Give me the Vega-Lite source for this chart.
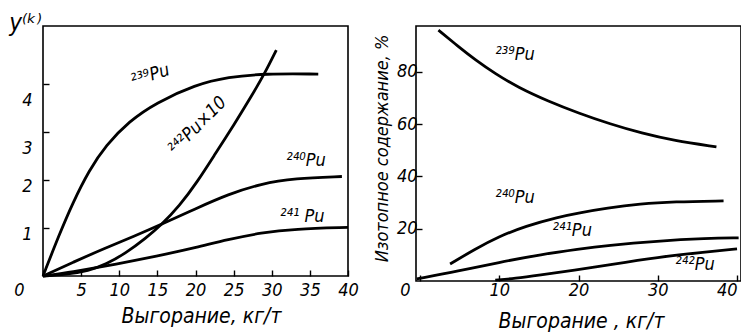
{
  "$schema": "https://vega.github.io/schema/vega-lite/v6.json",
  "padding": {"left": 7, "top": 10, "right": 0, "bottom": 0},
  "background": "white",
  "bounds": "flush",
  "spacing": 68,
  "config": {
    "view": {"stroke": "black", "strokeWidth": 1.6},
    "font": "DejaVu Sans Condensed, DejaVu Sans",
    "axis": {
      "domain": false, "grid": false, "ticks": true, "tickSize": -6, "tickColor": "black", "tickWidth": 1.4, "labelOverlap": false, "labelSeparation": 0,
      "labelFont": "DejaVu Sans Condensed, DejaVu Sans", "labelFontStyle": "italic", "labelFontSize": 18, "labelColor": "black",
      "titleFont": "DejaVu Sans Condensed, DejaVu Sans", "titleFontStyle": "italic", "titleFontWeight": "normal", "titleFontSize": 20, "titleColor": "black"
    },
    "text": {"font": "DejaVu Sans Condensed, DejaVu Sans", "fontStyle": "italic", "fontSize": 18, "color": "black"}
  },
  "datasets": {
    "left": [
      {"iso": "239", "x": 0, "y": 0}, {"iso": "239", "x": 2.1, "y": 0.85}, {"iso": "239", "x": 3.9, "y": 1.52}, {"iso": "239", "x": 6.05, "y": 2.2}, {"iso": "239", "x": 8.25, "y": 2.72}, {"iso": "239", "x": 11.3, "y": 3.22}, {"iso": "239", "x": 14.8, "y": 3.6}, {"iso": "239", "x": 20, "y": 3.98}, {"iso": "239", "x": 24.3, "y": 4.14}, {"iso": "239", "x": 29.1, "y": 4.21}, {"iso": "239", "x": 36.1, "y": 4.2},
      {"iso": "242", "x": 0, "y": 0}, {"iso": "242", "x": 3, "y": 0.03}, {"iso": "242", "x": 6, "y": 0.11}, {"iso": "242", "x": 8.25, "y": 0.24}, {"iso": "242", "x": 10.9, "y": 0.48}, {"iso": "242", "x": 13.5, "y": 0.79}, {"iso": "242", "x": 15.5, "y": 1.06}, {"iso": "242", "x": 17.9, "y": 1.46}, {"iso": "242", "x": 20.2, "y": 1.95}, {"iso": "242", "x": 22.5, "y": 2.52}, {"iso": "242", "x": 25.1, "y": 3.16}, {"iso": "242", "x": 27.3, "y": 3.73}, {"iso": "242", "x": 29.1, "y": 4.22}, {"iso": "242", "x": 30.6, "y": 4.7},
      {"iso": "240", "x": 0, "y": 0}, {"iso": "240", "x": 4, "y": 0.29}, {"iso": "240", "x": 8, "y": 0.57}, {"iso": "240", "x": 12, "y": 0.83}, {"iso": "240", "x": 15.5, "y": 1.07}, {"iso": "240", "x": 20, "y": 1.4}, {"iso": "240", "x": 24.3, "y": 1.7}, {"iso": "240", "x": 28.6, "y": 1.92}, {"iso": "240", "x": 33, "y": 2.03}, {"iso": "240", "x": 39.2, "y": 2.07},
      {"iso": "241", "x": 0, "y": 0}, {"iso": "241", "x": 4, "y": 0.09}, {"iso": "241", "x": 8, "y": 0.2}, {"iso": "241", "x": 12.6, "y": 0.34}, {"iso": "241", "x": 16, "y": 0.45}, {"iso": "241", "x": 20, "y": 0.59}, {"iso": "241", "x": 24.3, "y": 0.76}, {"iso": "241", "x": 28.6, "y": 0.9}, {"iso": "241", "x": 33, "y": 0.98}, {"iso": "241", "x": 40, "y": 1.01}
    ],
    "right": [
      {"iso": "239", "x": 2.33, "y": 95.9}, {"iso": "239", "x": 4.86, "y": 89.6}, {"iso": "239", "x": 6.96, "y": 84.6}, {"iso": "239", "x": 9.48, "y": 79.3}, {"iso": "239", "x": 12.4, "y": 74.0}, {"iso": "239", "x": 16.2, "y": 68.7}, {"iso": "239", "x": 20, "y": 64.2}, {"iso": "239", "x": 24, "y": 60.0}, {"iso": "239", "x": 28, "y": 56.5}, {"iso": "239", "x": 32, "y": 53.7}, {"iso": "239", "x": 37.4, "y": 51.3},
      {"iso": "240", "x": 3.8, "y": 6.5}, {"iso": "240", "x": 6.96, "y": 12.2}, {"iso": "240", "x": 9.9, "y": 16.9}, {"iso": "240", "x": 13.3, "y": 21.0}, {"iso": "240", "x": 17.5, "y": 24.5}, {"iso": "240", "x": 20, "y": 26.0}, {"iso": "240", "x": 23.6, "y": 27.9}, {"iso": "240", "x": 27.8, "y": 29.5}, {"iso": "240", "x": 32, "y": 30.3}, {"iso": "240", "x": 38.3, "y": 30.6},
      {"iso": "241", "x": -0.4, "y": 0.8}, {"iso": "241", "x": 4.86, "y": 3.8}, {"iso": "241", "x": 9.9, "y": 7.1}, {"iso": "241", "x": 15.4, "y": 10.2}, {"iso": "241", "x": 20, "y": 12.2}, {"iso": "241", "x": 23.6, "y": 13.6}, {"iso": "241", "x": 29.9, "y": 15.3}, {"iso": "241", "x": 36.2, "y": 16.3}, {"iso": "241", "x": 40.2, "y": 16.5},
      {"iso": "242", "x": 9.5, "y": 0.3}, {"iso": "242", "x": 12, "y": 1}, {"iso": "242", "x": 15, "y": 2.2}, {"iso": "242", "x": 19.5, "y": 4.1}, {"iso": "242", "x": 24, "y": 6.3}, {"iso": "242", "x": 30, "y": 9.1}, {"iso": "242", "x": 36, "y": 11.1}, {"iso": "242", "x": 40, "y": 12.3}
    ],
    "leftLabels": [
      {"x": 14.1, "y": 4.16, "label": "²³⁹Pu"},
      {"x": 20.3, "y": 3.12, "label": "²⁴²Pu×10"},
      {"x": 34.5, "y": 2.4, "label": "²⁴⁰Pu"},
      {"x": 34.0, "y": 1.23, "label": "²⁴¹ Pu"}
    ],
    "rightLabels": [
      {"x": 12.0, "y": 86.6, "label": "²³⁹Pu"},
      {"x": 12.0, "y": 31.8, "label": "²⁴⁰Pu"},
      {"x": 19.2, "y": 19.0, "label": "²⁴¹Pu"},
      {"x": 34.7, "y": 6.1, "label": "²⁴²Pu"}
    ]
  },
  "hconcat": [
    {
      "width": 305, "height": 250,
      "layer": [
        {
          "data": {"name": "left"},
          "mark": {"type": "line", "color": "black", "strokeWidth": 2.8, "interpolate": "basis"},
          "encoding": {
            "x": {"field": "x", "type": "quantitative", "scale": {"domain": [0, 40], "nice": false},
              "axis": {"tickCount": 8, "labelOverlap": false, "labelBound": false, "labelPadding": 11, "labelFlush": false,
                "labelOffset": {"condition": {"test": "datum.value == 0", "value": -24}, "value": 0},
                "title": "Выгорание, кг/т", "titleX": 158, "titleY": 46, "titleBaseline": "alphabetic", "titleFontSize": 21}},
            "y": {"field": "y", "type": "quantitative", "scale": {"domain": [0, 5.2], "nice": false},
              "axis": {"values": [1, 2, 3, 4], "labelOverlap": false, "labelPadding": 17, "labelFlush": false,
                "labelOffset": {"condition": {"test": "datum.value >= 3", "value": 17}, "value": 7},
                "title": "y⁽ᵏ⁾", "titleAngle": 0, "titleX": -18, "titleY": 4, "titleAlign": "center", "titleBaseline": "alphabetic", "titleFontSize": 24}},
            "detail": {"field": "iso"}
          }
        },
        {
          "data": {"name": "leftLabels"},
          "transform": [{"filter": "datum.label == '²³⁹Pu'"}],
          "mark": {"type": "text", "angle": -18},
          "encoding": {"x": {"field": "x", "type": "quantitative"}, "y": {"field": "y", "type": "quantitative"}, "text": {"field": "label"}}
        },
        {
          "data": {"name": "leftLabels"},
          "transform": [{"filter": "datum.label == '²⁴²Pu×10'"}],
          "mark": {"type": "text", "angle": -45},
          "encoding": {"x": {"field": "x", "type": "quantitative"}, "y": {"field": "y", "type": "quantitative"}, "text": {"field": "label"}}
        },
        {
          "data": {"name": "leftLabels"},
          "transform": [{"filter": "datum.label == '²⁴⁰Pu' || datum.label == '²⁴¹ Pu'"}],
          "mark": {"type": "text"},
          "encoding": {"x": {"field": "x", "type": "quantitative"}, "y": {"field": "y", "type": "quantitative"}, "text": {"field": "label"}}
        }
      ]
    },
    {
      "width": 325, "height": 255,
      "layer": [
        {
          "data": {"name": "right"},
          "mark": {"type": "line", "color": "black", "strokeWidth": 2.8, "interpolate": "basis"},
          "encoding": {
            "x": {"field": "x", "type": "quantitative", "scale": {"domain": [-0.5, 40.5], "nice": false},
              "axis": {"values": [0, 10, 20, 30, 40], "labelOverlap": false, "labelBound": false, "labelPadding": 6, "labelFlush": false,
                "labelOffset": {"condition": {"test": "datum.value == 0", "value": -15}, "value": 0},
                "labelAlign": {"condition": {"test": "datum.value == 40", "value": "right"}, "value": "center"},
                "title": "Выгорание , кг/т", "titleX": 165, "titleY": 46, "titleBaseline": "alphabetic", "titleFontSize": 21}},
            "y": {"field": "y", "type": "quantitative", "scale": {"domain": [0, 97.5], "nice": false},
              "axis": {"values": [20, 40, 60, 80], "labelOverlap": false, "labelPadding": 5, "labelFlush": false,
                "title": "Изотопное содержание, %", "titleX": -34, "titleY": 122, "titleAngle": -90, "titleAlign": "center", "titleBaseline": "middle", "titleFontSize": 18}},
            "detail": {"field": "iso"}
          }
        },
        {
          "data": {"name": "rightLabels"},
          "mark": {"type": "text"},
          "encoding": {"x": {"field": "x", "type": "quantitative"}, "y": {"field": "y", "type": "quantitative"}, "text": {"field": "label"}}
        }
      ]
    }
  ],
  "resolve": {"scale": {"x": "independent", "y": "independent"}}
}
